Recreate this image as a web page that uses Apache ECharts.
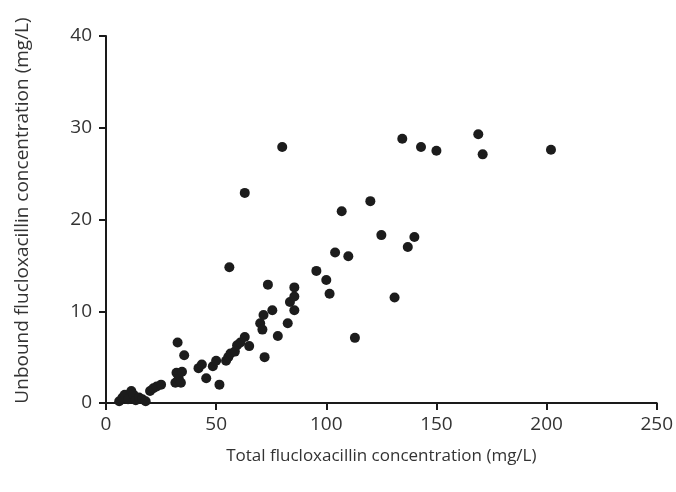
<!DOCTYPE html>
<html>
<head>
<meta charset="utf-8">
<script src="https://cdn.jsdelivr.net/npm/echarts@6/dist/echarts.min.js"></script>
<style>
html,body{margin:0;padding:0;background:#fff;}
#chart{width:676px;height:492px;}
</style>
</head>
<body>
<div id="chart"></div>
<script>
// Total flucloxacillin concentration (mg/L)
const totalConc = [6,7.5,8.5,10,11.5,12.5,13.5,15,16.5,18,20,21.5,23,25,
  31.5,32,33,34,34.5,32.5,35.5,
  42,43.5,45.5,48.5,50,51.5,54.5,55.5,56.5,58.5,59.5,61,63,65,56,63,
  70,71,71.5,72,73.5,75.5,78,80,82.5,83.5,85.5,85.5,85.5,
  95.5,100,101.5,104,107,110,113,120,125,131,134.5,137,140,143,150,169,171,202];
// Unbound flucloxacillin concentration (mg/L)
const unboundConc = [0.2,0.6,0.9,0.4,1.3,0.9,0.3,0.6,0.4,0.2,1.3,1.6,1.8,2.0,
  2.2,3.3,2.7,2.2,3.4,6.6,5.2,
  3.8,4.2,2.7,4.0,4.6,2.0,4.6,5.0,5.4,5.6,6.3,6.6,7.2,6.2,14.8,22.9,
  8.7,8.0,9.6,5.0,12.9,10.1,7.3,27.9,8.7,11.0,12.6,11.6,10.1,
  14.4,13.4,11.9,16.4,20.9,16.0,7.1,22.0,18.3,11.5,28.8,17.0,18.1,27.9,27.5,29.3,27.1,27.6];
const xTicks = [0,50,100,150,200,250];
const yTicks = [0,10,20,30,40];
const xTitle = 'Total flucloxacillin concentration (mg/L)';
const yTitle = 'Unbound flucloxacillin concentration (mg/L)';

const points = totalConc.map((x,i)=>[x, unboundConc[i]]);
const font = 'Open Sans';
const chart = echarts.init(document.getElementById('chart'));
chart.setOption({
  animation:false,
  backgroundColor:'#fff',
  grid:{left:106,right:19,top:36,bottom:89},
  xAxis:{
    type:'value',min:xTicks[0],max:xTicks[xTicks.length-1],interval:50,
    name:xTitle,nameLocation:'middle',nameGap:45,
    nameTextStyle:{fontFamily:font,fontSize:17,color:'#333'},
    axisLine:{show:true,lineStyle:{color:'#1a1a1a',width:2}},
    axisTick:{show:true,length:7,lineStyle:{color:'#1a1a1a',width:2}},
    axisLabel:{fontFamily:font,fontSize:19,color:'#333',margin:12},
    splitLine:{show:false}
  },
  yAxis:{
    type:'value',min:yTicks[0],max:yTicks[yTicks.length-1],interval:10,
    name:yTitle,nameLocation:'middle',nameGap:74,
    nameTextStyle:{fontFamily:font,fontSize:19,color:'#333',padding:[0,0,0,18]},
    axisLine:{show:true,lineStyle:{color:'#1a1a1a',width:2}},
    axisTick:{show:true,length:7,lineStyle:{color:'#1a1a1a',width:2}},
    axisLabel:{fontFamily:font,fontSize:19,color:'#333',margin:14},
    splitLine:{show:false}
  },
  series:[{
    type:'scatter',data:points,symbolSize:10,
    itemStyle:{color:'#1c1c1c',opacity:1}
  }]
});
</script>
</body>
</html>
